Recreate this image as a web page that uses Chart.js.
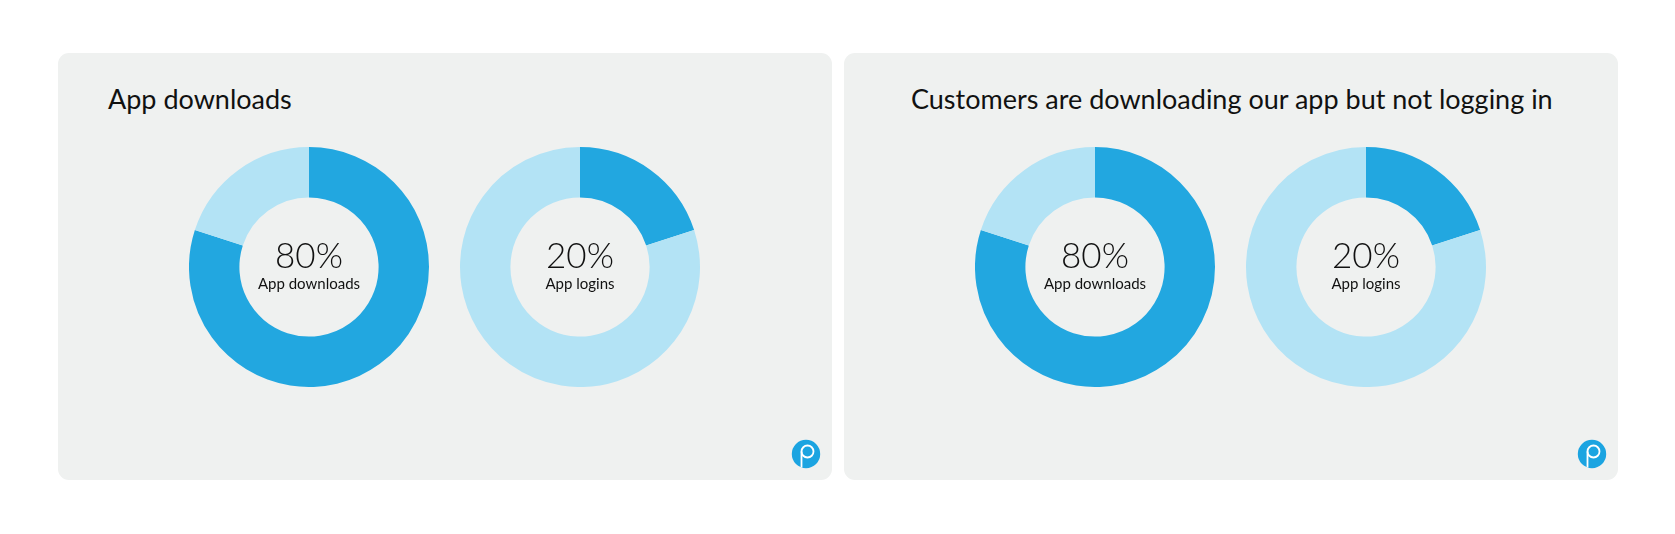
<!DOCTYPE html>
<html><head><meta charset="utf-8">
<script src="https://cdn.jsdelivr.net/npm/chart.js@4/dist/chart.umd.min.js"></script>
<style>
html,body{margin:0;padding:0;background:#fff;width:1675px;height:534px;overflow:hidden;font-family:Lato,"Open Sans",sans-serif;}
.panel{position:absolute;top:53px;width:774px;height:427px;background:#eff1f0;border-radius:11px;}
.title{position:absolute;color:#111;font-family:Lato,sans-serif;font-size:27px;white-space:nowrap;line-height:1;}
.chart{position:absolute;width:240px;height:240px;}
.center{position:absolute;width:160px;text-align:center;color:#111;}
.pct{font-size:35px;font-weight:300;line-height:1;}
.lbl{font-size:15px;line-height:1;}
.logo{position:absolute;width:30px;height:30px;}
</style></head>
<body>
<script>
const panelTitles = ["App downloads", "Customers are downloading our app but not logging in"];
const chartLabels = ["App downloads", "App logins"];
const percentLabels = ["80%", "20%"];
const downloadsValues = [80, 20];
const loginsValues = [20, 80];
const segmentColors1 = ["#22a7e0", "#b3e3f5"];
const segmentColors2 = ["#22a7e0", "#b3e3f5"];
</script>
<div id="root"></div>
<script>
const root = document.getElementById('root');
const panelOffsets = [0, 786];
const chartCenters = [[309, 267], [580, 267]];
const seriesList = [downloadsValues, loginsValues];
const colorList = [segmentColors1, segmentColors2];
panelOffsets.forEach((off, p) => {
  const panel = document.createElement('div');
  panel.className = 'panel';
  panel.style.left = (58 + off) + 'px';
  root.appendChild(panel);
  const t = document.createElement('div');
  t.className = 'title';
  t.textContent = panelTitles[p];
  t.style.left = (p === 0 ? 108 : 911) + 'px';
  t.style.top = '85px';
  root.appendChild(t);
  chartCenters.forEach((c, i) => {
    const cx = c[0] + off, cy = c[1];
    const cv = document.createElement('canvas');
    cv.className = 'chart';
    cv.width = 240; cv.height = 240;
    cv.style.left = (cx - 120) + 'px';
    cv.style.top = (cy - 120) + 'px';
    root.appendChild(cv);
    new Chart(cv, {
      type: 'doughnut',
      data: { labels: chartLabels, datasets: [{ data: seriesList[i], backgroundColor: colorList[i], borderWidth: 0, hoverOffset: 0 }] },
      options: { responsive: false, animation: false, cutout: '58%', layout: { padding: 0 },
        plugins: { legend: { display: false }, tooltip: { enabled: false } } }
    });
    const ctr = document.createElement('div');
    ctr.className = 'center';
    ctr.style.left = (cx - 80) + 'px';
    ctr.style.top = (cy - 30) + 'px';
    ctr.innerHTML = '<div class="pct">' + percentLabels[i] + '</div><div class="lbl" style="margin-top:4px">' + chartLabels[i] + '</div>';
    root.appendChild(ctr);
  });
  const logo = document.createElementNS('http://www.w3.org/2000/svg', 'svg');
  logo.setAttribute('class', 'logo');
  logo.setAttribute('viewBox', '0 0 30 30');
  logo.style.left = (791 + off) + 'px';
  logo.style.top = '439px';
  logo.innerHTML = '<circle cx="15" cy="15" r="14.2" fill="#1ba4e1"/><circle cx="16.5" cy="12.5" r="6" fill="none" stroke="#fff" stroke-width="1.8"/><line x1="10.5" y1="12.5" x2="10.5" y2="28.5" stroke="#fff" stroke-width="1.8"/>';
  root.appendChild(logo);
});
</script>
</body></html>
